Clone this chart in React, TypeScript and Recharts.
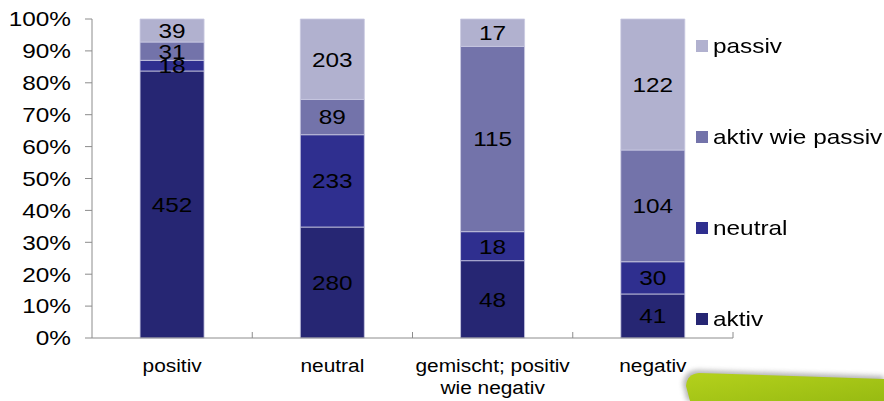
import { BarChart, Bar, XAxis, YAxis, LabelList } from "recharts";

// Kategorien (Tonalität) und Werte je Rolle
const CATEGORIES = ["positiv", "neutral", "gemischt; positiv\nwie negativ", "negativ"];
const AKTIV = [452, 280, 48, 41];
const NEUTRAL = [18, 233, 18, 30];
const AKTIV_WIE_PASSIV = [31, 89, 115, 104];
const PASSIV = [39, 203, 17, 122];
const Y_TICKS = [0, 0.1, 0.2, 0.3, 0.4, 0.5, 0.6, 0.7, 0.8, 0.9, 1];

const SERIES = [
  { key: "aktiv", name: "aktiv", color: "#262673" },
  { key: "neutral", name: "neutral", color: "#2f2f8f" },
  { key: "aktivWiePassiv", name: "aktiv wie passiv", color: "#7373aa" },
  { key: "passiv", name: "passiv", color: "#b1b1cf" },
];

const data = CATEGORIES.map((cat, i) => ({
  cat,
  aktiv: AKTIV[i],
  neutral: NEUTRAL[i],
  aktivWiePassiv: AKTIV_WIE_PASSIV[i],
  passiv: PASSIV[i],
}));

const FONT = "'Liberation Sans', Arial, sans-serif";
const STRETCH = 1.16; // Original ist horizontal gestreckt
const AXIS = "#8c8c8c";
const BAND = 641 / CATEGORIES.length;

// eslint-disable-next-line @typescript-eslint/no-explicit-any
function YTick(props: any) {
  const { x, y, payload } = props;
  return (
    <g transform={`translate(${x},${y}) scale(${STRETCH},1)`}>
      <text x={0} y={0} textAnchor="end" dominantBaseline="central" fontSize={21} fill="#000" fontFamily={FONT}>
        {Math.round(payload.value * 100)}%
      </text>
    </g>
  );
}

// eslint-disable-next-line @typescript-eslint/no-explicit-any
function XTick(props: any) {
  const { x, y, payload } = props;
  const lines = String(payload.value).split("\n");
  const bx = x + BAND / 2;
  return (
    <g>
      <line x1={bx} x2={bx} y1={y - 6} y2={y} stroke={AXIS} strokeWidth={1} />
      <g transform={`translate(${x},${y}) scale(${STRETCH},1)`}>
        {lines.map((l, i) => (
          <text key={i} x={0} y={34 + i * 22} textAnchor="middle" fontSize={18} fill="#000" fontFamily={FONT}>
            {l}
          </text>
        ))}
      </g>
    </g>
  );
}

// eslint-disable-next-line @typescript-eslint/no-explicit-any
function SegLabel(props: any) {
  const { x, y, width, height, value } = props;
  const cx = x + width / 2;
  const cy = y + height / 2;
  return (
    <g transform={`translate(${cx},${cy}) scale(${STRETCH},1)`}>
      <text x={0} y={0} textAnchor="middle" dominantBaseline="central" fontSize={21} fill="#000" fontFamily={FONT}>
        {value}
      </text>
    </g>
  );
}

const LEGEND_ROWS = [
  { name: "passiv", color: "#b1b1cf", y: 46 },
  { name: "aktiv wie passiv", color: "#7373aa", y: 137 },
  { name: "neutral", color: "#2f2f8f", y: 228 },
  { name: "aktiv", color: "#262673", y: 319 },
];

export default function App() {
  return (
    <div style={{ position: "absolute", left: 0, top: 0, width: 884, height: 401, background: "#fff", overflow: "hidden" }}>
      <svg width={884} height={401} style={{ position: "absolute", left: 0, top: 0 }}>
        <defs>
          <linearGradient id="grn" x1="0" y1="0" x2="1" y2="1">
            <stop offset="0%" stopColor="#b4d11c" />
            <stop offset="100%" stopColor="#98bb12" />
          </linearGradient>
          <filter id="blur" x="-10%" y="-50%" width="120%" height="200%">
            <feGaussianBlur stdDeviation="2.5" />
          </filter>
        </defs>
        <path d="M 687 401 L 683 384 Q 684 371 697 370 L 884 376 L 884 401 Z" fill="#7a7a7a" opacity={0.55} filter="url(#blur)" />
        <path d="M 690 401 L 686 386 Q 687 374 699 373 L 884 379 L 884 401 Z" fill="url(#grn)" />
      </svg>
      <div style={{ position: "absolute", left: 0, top: 0 }}>
        <BarChart
          width={884}
          height={401}
          data={data}
          stackOffset="expand"
          barCategoryGap="30%"
          margin={{ top: 19, right: 151, bottom: 0, left: 0 }}
          style={{ fontFamily: FONT }}
        >
          <YAxis
            type="number"
            domain={[0, 1]}
            ticks={Y_TICKS}
            width={92}
            tick={<YTick />}
            tickSize={7}
            tickMargin={14}
            axisLine={{ stroke: AXIS }}
            tickLine={{ stroke: AXIS }}
            interval={0}
          />
          <XAxis
            dataKey="cat"
            height={63}
            tick={<XTick />}
            tickLine={false}
            tickSize={0}
            tickMargin={0}
            axisLine={{ stroke: AXIS }}
            interval={0}
          />
          {SERIES.map((s) => (
            <Bar
              key={s.key}
              dataKey={s.key}
              name={s.name}
              stackId="a"
              fill={s.color}
              stroke="#c9c9e2"
              strokeWidth={0.8}
              isAnimationActive={false}
            >
              <LabelList dataKey={s.key} content={<SegLabel />} />
            </Bar>
          ))}
        </BarChart>
      </div>
      {LEGEND_ROWS.map((r) => (
        <div
          key={r.name}
          style={{
            position: "absolute",
            left: 696,
            top: r.y - 12,
            height: 24,
            display: "flex",
            alignItems: "center",
            fontFamily: FONT,
            fontSize: 21,
            color: "#000",
            whiteSpace: "nowrap",
          }}
        >
          <span style={{ width: 12, height: 12, background: r.color, display: "inline-block", marginRight: 5 }} />
          <span style={{ display: "inline-block", transform: `scaleX(${STRETCH})`, transformOrigin: "left center" }}>{r.name}</span>
        </div>
      ))}
    </div>
  );
}
